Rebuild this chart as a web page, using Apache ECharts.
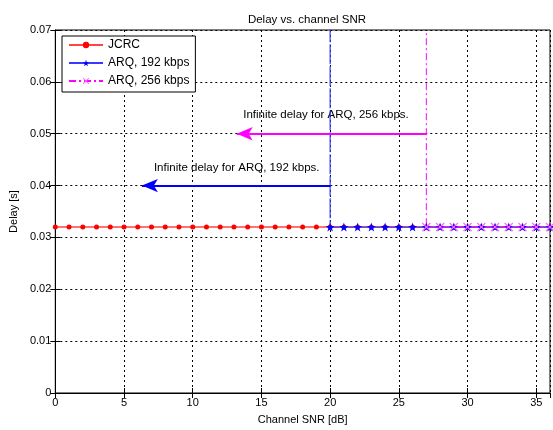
<!DOCTYPE html>
<html><head><meta charset="utf-8">
<script src="https://cdn.jsdelivr.net/npm/echarts@6/dist/echarts.min.js"></script>
<style>html,body{margin:0;padding:0;background:#fff}#c{width:553px;height:430px}</style>
</head><body><div id="c"></div>
<script>
// ---- data ----
const snrJCRC = [0,1,2,3,4,5,6,7,8,9,10,11,12,13,14,15,16,17,18,19,20,21,22,23,24,25,26,27,28,29,30,31,32,33,34,35,36];
const delayJCRC = [0.032,0.032,0.032,0.032,0.032,0.032,0.032,0.032,0.032,0.032,0.032,0.032,0.032,0.032,0.032,0.032,0.032,0.032,0.032,0.032,0.032,0.032,0.032,0.032,0.032,0.032,0.032,0.032,0.032,0.032,0.032,0.032,0.032,0.032,0.032,0.032,0.032];
const snrARQ192 = [20,21,22,23,24,25,26,27,28,29,30,31,32,33,34,35,36];
const delayARQ192 = [0.032,0.032,0.032,0.032,0.032,0.032,0.032,0.032,0.032,0.032,0.032,0.032,0.032,0.032,0.032,0.032,0.032];
const snrARQ256 = [27,28,29,30,31,32,33,34,35,36];
const delayARQ256 = [0.032,0.032,0.032,0.032,0.032,0.032,0.032,0.032,0.032,0.032];
const seriesNames = ['JCRC','ARQ, 192 kbps','ARQ, 256 kbps'];
// infinite-delay thresholds (vertical lines drawn from the first finite point upward)
const infStart192 = [20, 0.032];
const infStart256 = [27, 0.032];
const infTop = 0.08;
// annotation arrows: [from, to]
const arrow256 = [[27,0.05],[13.2,0.05]];
const arrow192 = [[20,0.04],[6.3,0.04]];
const text256 = {label:'Infinite delay for ARQ, 256 kbps.', at:[19.7,0.0536]};
const text192 = {label:'Infinite delay for ARQ, 192 kbps.', at:[13.2,0.0434]};
const xTicks = {min:0, max:36, interval:5};
const yTicks = {min:0, max:0.07, interval:0.01};

const FONT = 'Liberation Sans';
const pair = (xs, ys) => xs.map((x,i)=>[x, ys[i]]);
const STAR = 'path://M5,0L6.2,3.6L10,3.6L6.9,5.9L8.1,9.5L5,7.3L1.9,9.5L3.1,5.9L0,3.6L3.8,3.6Z';
const XMARK = 'path://M0,1L1,0L5,4L9,0L10,1L6,5L10,9L9,10L5,6L1,10L0,9L4,5Z';
const grid = {left:53, right:3, top:30, bottom:32, show:true, borderColor:'#000', borderWidth:1};
const axisText = {color:'#000', fontFamily:FONT, fontSize:11};

const chart = echarts.init(document.getElementById('c'), null, {renderer:'canvas'});
chart.setOption({
  animation:false,
  backgroundColor:'#fff',
  title:{text:'Delay vs. channel SNR', left:302, textAlign:'center', top:9,
    textStyle:{fontFamily:FONT, fontSize:11.5, fontWeight:'normal', color:'#000'}},
  grid: grid,
  legend:{
    data:seriesNames, orient:'vertical', left:62, top:36,
    backgroundColor:'#fff', borderColor:'#000', borderWidth:1, borderRadius:0,
    padding:[3,6,5,6], itemGap:6, itemWidth:34, itemHeight:8,
    textStyle:{fontFamily:FONT, fontSize:12, color:'#000'}
  },
  xAxis:[{
    type:'value', min:xTicks.min, max:xTicks.max, interval:xTicks.interval,
    name:'Channel SNR [dB]', nameLocation:'middle', nameGap:21,
    nameTextStyle:{fontFamily:FONT, fontSize:11, color:'#000'},
    axisLine:{show:true, onZero:false, lineStyle:{color:'#000'}},
    axisTick:{show:true, inside:true, length:5, lineStyle:{color:'#000'}},
    axisLabel:Object.assign({margin:4, showMaxLabel:false}, axisText),
    splitLine:{show:true, lineStyle:{color:'#000', type:[2,3], width:1}}
  },{
    type:'value', position:'top', min:xTicks.min, max:xTicks.max, interval:xTicks.interval,
    axisLine:{show:true, lineStyle:{color:'#000'}},
    axisTick:{show:true, inside:true, length:5, lineStyle:{color:'#000'}},
    axisLabel:{show:false}, splitLine:{show:false}
  }],
  yAxis:[{
    type:'value', min:yTicks.min, max:yTicks.max, interval:yTicks.interval,
    name:'Delay [s]', nameLocation:'middle', nameGap:36,
    nameTextStyle:{fontFamily:FONT, fontSize:11, color:'#000'},
    axisLine:{show:true, onZero:false, lineStyle:{color:'#000'}},
    axisTick:{show:true, inside:true, length:5, lineStyle:{color:'#000'}},
    axisLabel:Object.assign({margin:4, formatter:v=> v===0?'0':v.toFixed(2)}, axisText),
    splitLine:{show:true, lineStyle:{color:'#000', type:[2,3], width:1}}
  },{
    type:'value', position:'right', min:yTicks.min, max:yTicks.max, interval:yTicks.interval,
    axisLine:{show:true, lineStyle:{color:'#000'}},
    axisTick:{show:true, inside:true, length:5, lineStyle:{color:'#000'}},
    axisLabel:{show:false}, splitLine:{show:false}
  }],
  series:[
    {name:'__v192', type:'line', data:[[infStart192[0], infTop], infStart192], symbol:'none',
      lineStyle:{color:'#3a3aff', width:1.2, type:[20,2]}, z:3, silent:true},
    {name:'__v256', type:'line', data:[[infStart256[0], infTop], infStart256], symbol:'none',
      lineStyle:{color:'#ff00ff', width:1, type:[7,3,2,3]}, z:3, silent:true},
    {name:'__a256', type:'line', data:[], silent:true,
      markLine:{silent:true, symbol:['none','arrow'], symbolSize:[10,16], label:{show:false},
        lineStyle:{color:'#ff00ff', width:2, type:'solid'},
        data:[[{coord:arrow256[0]},{coord:arrow256[1]}]]}},
    {name:'__a192', type:'line', data:[], silent:true,
      markLine:{silent:true, symbol:['none','arrow'], symbolSize:[10,16], label:{show:false},
        lineStyle:{color:'#0000ff', width:2, type:'solid'},
        data:[[{coord:arrow192[0]},{coord:arrow192[1]}]]}},
    {name:'__t', type:'scatter', symbolSize:0, silent:true, itemStyle:{opacity:1},
      data:[text256.at, text192.at].map((p,i)=>({value:p,
        label:{show:true, position:'inside', formatter:[text256.label, text192.label][i],
          fontFamily:FONT, fontSize:11.5, color:'#000', opacity:1}}))},
    {name:seriesNames[0], type:'line', data:pair(snrJCRC, delayJCRC), symbol:'circle', symbolSize:5,
      itemStyle:{color:'#ff0000'}, lineStyle:{color:'#ff4444', width:1.5}, z:4},
    {name:seriesNames[1], type:'line', data:pair(snrARQ192, delayARQ192), symbol:STAR, symbolSize:9,
      itemStyle:{color:'#0000ff'}, lineStyle:{color:'#3a3aff', width:1.2}, z:5},
    {name:seriesNames[2], type:'line', data:pair(snrARQ256, delayARQ256), symbol:XMARK, symbolSize:9,
      itemStyle:{color:'#ff66ff'}, lineStyle:{color:'#ff00ff', width:1, type:[7,3,2,3]}, z:6}
  ]
});
</script></body></html>
